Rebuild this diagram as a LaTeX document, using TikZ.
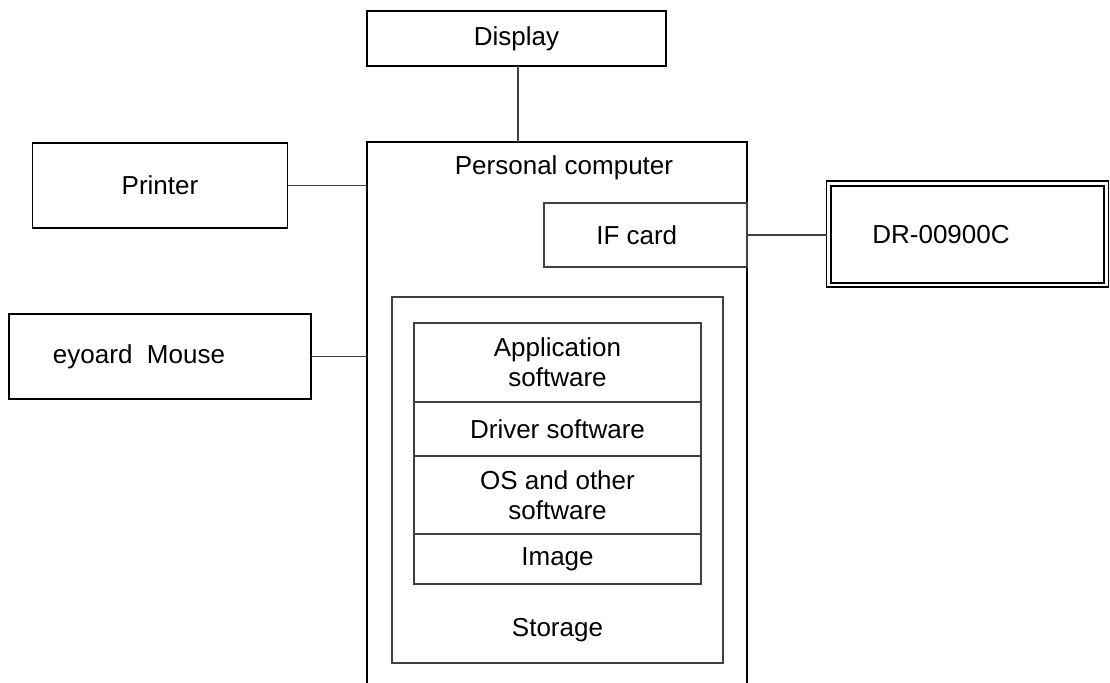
\documentclass[tikz,border=0pt]{standalone}
\usepackage{fontspec}
\setmainfont{Liberation Sans}
\usetikzlibrary{positioning}

\begin{document}
\begin{tikzpicture}
      \useasboundingbox(0,0) rectangle (22.2,13.64);
      \clip (0,0) rectangle (22.2,13.64);
      \tikzset{B/.style = {shape=rectangle, draw, line width=1.1pt, text=black, inner sep=0pt, outer sep=0pt}}
      \tikzset{S/.style = {shape=rectangle, draw=black!75, line width=0.6pt, text=black, inner sep=0pt, outer sep=0pt, align=center}}
      \tikzset{E/.style = {draw=black!75, line width=0.6pt}}
      \tikzset{T/.style = {text=black, inner sep=0pt}}
      \fontsize{14.8}{17}\selectfont
      \node[B,minimum width=5.98cm,minimum height=1.1cm](disp) at (10.33,12.87) {Display};
      \node[B,minimum width=7.6cm,minimum height=11.4cm](pc) at (11.14,5.1) {};
      \node[T](pct) at (11.28,10.28) {Personal computer};
      \node[B,minimum width=5.1cm,minimum height=1.7cm](prn) at (3.2,9.93) {Printer};
      \node[B,minimum width=6.04cm,minimum height=1.7cm](kbd) at (3.2,6.51) {};
      \node[T](kbdt) at (2.78,6.51) {eyoard\ \ Mouse};
      \node[S,minimum width=4.06cm,minimum height=1.28cm](ifc) at (12.91,8.94) {IF card\hspace*{0.35cm}};
      \node[B,minimum width=5.46cm,minimum height=1.94cm](dr) at (19.35,8.95) {};
      \node[T](drt) at (18.82,8.95) {DR-00900C};
      \node[S,minimum width=6.62cm,minimum height=7.32cm](stor) at (11.15,4.04) {};
      \node[T](stort) at (11.15,1.04) {Storage};
      \node[S,minimum width=5.74cm,minimum height=1.58cm](app) at (11.15,6.39) {Application\\software};
      \node[S,minimum width=5.74cm,minimum height=1.08cm,below=0pt of app](drv) {Driver software};
      \node[S,minimum width=5.74cm,minimum height=1.56cm,below=0pt of drv](os) {OS and other\\software};
      \node[S,minimum width=5.74cm,minimum height=1.0cm,below=0pt of os](img) {Image};
      \draw[line width=0.6pt] ([shift={(-0.09,0.1)}]dr.north west) rectangle ([shift={(0.09,-0.08)}]dr.south east);
      \draw[E](disp.south -| 10.36,0) to (pc.north -| 10.36,0);
      \draw[E](prn.east) to (pc.west |- prn.east);
      \draw[E](kbd.east) to (pc.west |- kbd.east);
      \draw[E](ifc.east) to ([xshift=-0.09cm]dr.west |- ifc.east);
\end{tikzpicture}
\end{document}
